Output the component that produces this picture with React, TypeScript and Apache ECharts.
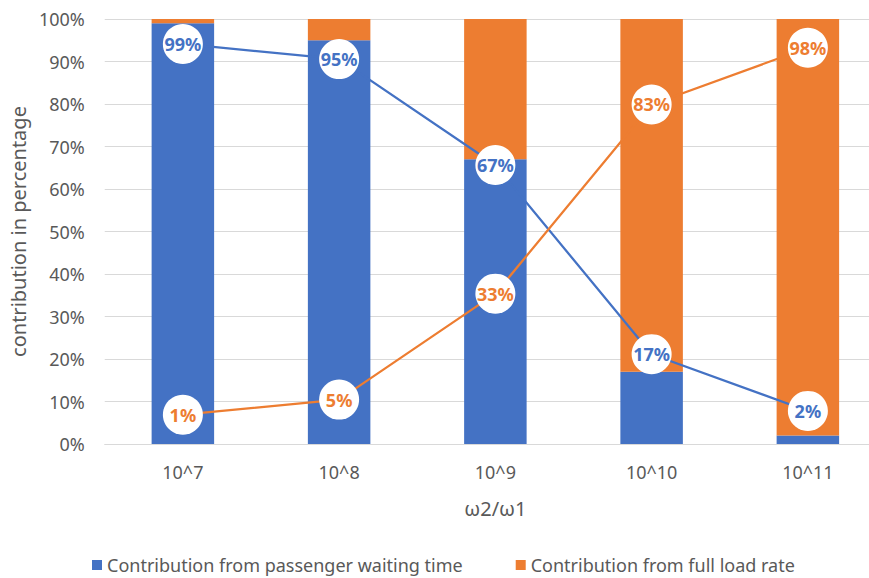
import React, { useEffect, useRef } from "react";
import * as echarts from "echarts";

const categories = ["10^7", "10^8", "10^9", "10^10", "10^11"];
const waitingTime = [99, 95, 67, 17, 2];
const fullLoadRate = [1, 5, 33, 83, 98];
const yTicks = { min: 0, max: 100, interval: 10 };
// hidden secondary axis range used by the two line series (as in the original chart)
const lineAxisRange = { min: -6.74, max: 105.6 };

const BLUE = "#4472C4";
const ORANGE = "#ED7D31";
const GREY = "#595959";
const FONT = "'Noto Sans', 'Open Sans', sans-serif";

export default function App() {
  const ref = useRef<HTMLDivElement>(null);
  useEffect(() => {
    if (!ref.current) return;
    const chart = echarts.init(ref.current, null, { renderer: "svg" });
    const lineLabel = (color: string) => ({
      show: true,
      position: "inside",
      formatter: "{c}%",
      color,
      fontWeight: "bold",
      fontSize: 18,
      fontFamily: FONT,
    });
    chart.setOption({
      animation: false,
      textStyle: { fontFamily: FONT },
      grid: { left: 104, top: 19, height: 425, width: 782 },
      legend: {
        bottom: 3,
        left: 92,
        padding: 0,
        data: ["Contribution from passenger waiting time", "Contribution from full load rate"],
        icon: "rect",
        itemWidth: 10,
        itemHeight: 10,
        itemGap: 53,
        textStyle: { color: GREY, fontSize: 18, lineHeight: 20, fontFamily: FONT },
      },
      xAxis: {
        type: "category",
        data: categories,
        axisLine: { lineStyle: { color: "#D9D9D9", width: 1 } },
        axisTick: { show: false },
        axisLabel: { color: GREY, fontSize: 18, margin: 19 },
        name: "ω2/ω1",
        nameLocation: "middle",
        nameGap: 54,
        nameTextStyle: { color: GREY, fontSize: 20 },
      },
      yAxis: [
        {
          type: "value",
          min: yTicks.min,
          max: yTicks.max,
          interval: yTicks.interval,
          axisLabel: { formatter: "{value}%", color: GREY, fontSize: 18, margin: 20 },
          splitLine: { lineStyle: { color: "#D9D9D9", width: 1 } },
          axisLine: { show: false },
          axisTick: { show: false },
          name: "contribution in percentage",
          nameLocation: "middle",
          nameGap: 74,
          nameTextStyle: { color: GREY, fontSize: 20 },
        },
        {
          type: "value",
          min: lineAxisRange.min,
          max: lineAxisRange.max,
          show: false,
          splitLine: { show: false },
        },
      ],
      series: [
        {
          name: "Contribution from passenger waiting time",
          type: "bar",
          stack: "total",
          data: waitingTime,
          barWidth: "40%",
          itemStyle: { color: BLUE },
        },
        {
          name: "Contribution from full load rate",
          type: "bar",
          stack: "total",
          data: fullLoadRate,
          barWidth: "40%",
          itemStyle: { color: ORANGE },
        },
        {
          name: "waiting line",
          type: "line",
          yAxisIndex: 1,
          data: waitingTime,
          symbol: "circle",
          symbolSize: 40,
          itemStyle: { color: "#ffffff" },
          lineStyle: { color: BLUE, width: 2.25 },
          label: lineLabel(BLUE),
          z: 5,
        },
        {
          name: "load line",
          type: "line",
          yAxisIndex: 1,
          data: fullLoadRate,
          symbol: "circle",
          symbolSize: 40,
          itemStyle: { color: "#ffffff" },
          lineStyle: { color: ORANGE, width: 2.25 },
          label: lineLabel(ORANGE),
          z: 5,
        },
      ],
    });
    return () => chart.dispose();
  }, []);
  return (
    <div
      style={{
        position: "absolute",
        left: 0,
        top: 0,
        width: 869,
        height: 578,
        overflow: "hidden",
        background: "#fff",
      }}
    >
      <div ref={ref} style={{ width: 890, height: 578 }} />
    </div>
  );
}
